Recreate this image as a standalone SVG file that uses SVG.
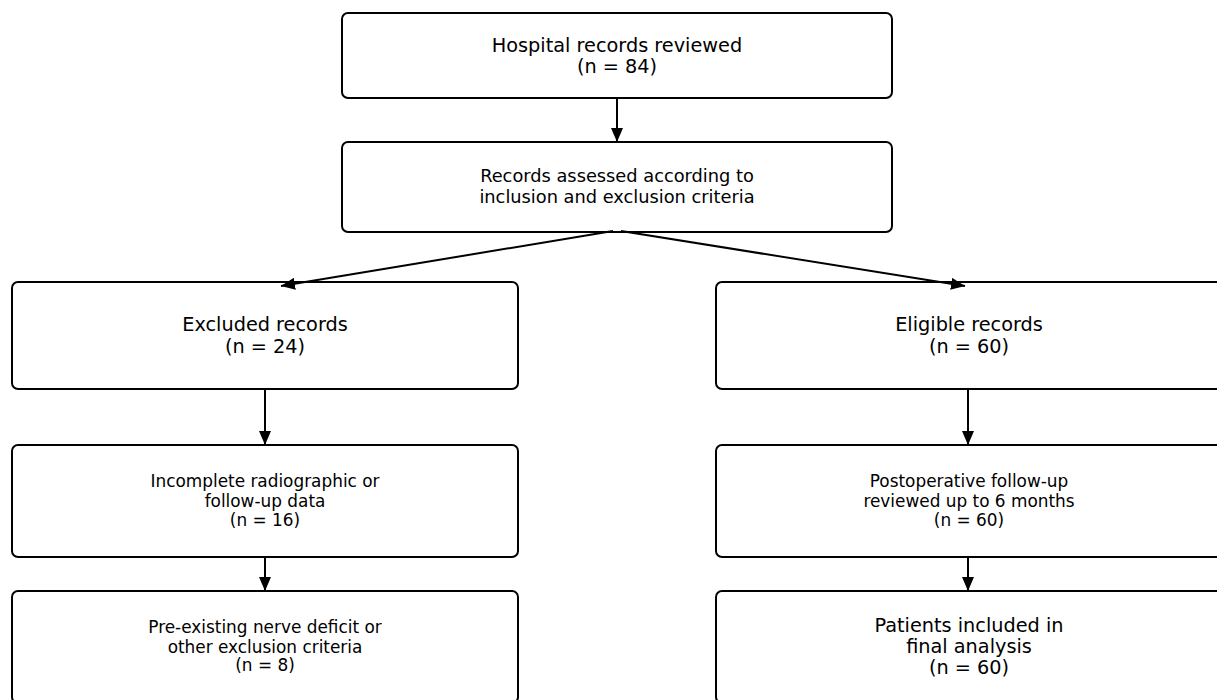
<svg xmlns="http://www.w3.org/2000/svg" width="1217" height="700" viewBox="0 0 1217 700">
<defs>
<marker id="ah" viewBox="0 0 14 12" refX="14" refY="6" markerWidth="14" markerHeight="12" markerUnits="userSpaceOnUse" orient="auto">
<path d="M0,0 L14,6 L0,12 Z" fill="#000"/>
</marker>
<style>
.box{fill:#fff;stroke:#000;stroke-width:2}
.t{font-family:"DejaVu Sans",sans-serif;text-anchor:middle;fill:#000}
.lg{font-size:19.3px}
.md{font-size:17.8px}
.sm{font-size:16.9px}
.c{stroke:#000;stroke-width:2;fill:none;marker-end:url(#ah)}
</style>
</defs>
<rect width="1217" height="700" fill="#fff"/>
<g id="n1"><rect class="box" x="342" y="13" width="550" height="85" rx="6"/>
<text class="t lg" x="617" y="52">Hospital records reviewed</text>
<text class="t lg" x="617" y="73">(n = 84)</text></g>
<g id="n2"><rect class="box" x="342" y="142" width="550" height="90" rx="6"/>
<text class="t md" x="617" y="182">Records assessed according to</text>
<text class="t md" x="617" y="203">inclusion and exclusion criteria</text></g>
<g id="n3"><rect class="box" x="12" y="282" width="506" height="107" rx="6"/>
<text class="t lg" x="265" y="331">Excluded records</text>
<text class="t lg" x="265" y="353">(n = 24)</text></g>
<g id="n4"><rect class="box" x="716" y="282" width="506" height="107" rx="6"/>
<text class="t lg" x="969" y="331">Eligible records</text>
<text class="t lg" x="969" y="353">(n = 60)</text></g>
<g id="n5"><rect class="box" x="12" y="445" width="506" height="112" rx="6"/>
<text class="t sm" x="265" y="487">Incomplete radiographic or</text>
<text class="t sm" x="265" y="507">follow-up data</text>
<text class="t sm" x="265" y="526">(n = 16)</text></g>
<g id="n6"><rect class="box" x="716" y="445" width="506" height="112" rx="6"/>
<text class="t sm" x="969" y="487">Postoperative follow-up</text>
<text class="t sm" x="969" y="507">reviewed up to 6 months</text>
<text class="t sm" x="969" y="526">(n = 60)</text></g>
<g id="n7"><rect class="box" x="12" y="591" width="506" height="112" rx="6"/>
<text class="t sm" x="265" y="633">Pre-existing nerve deficit or</text>
<text class="t sm" x="265" y="653">other exclusion criteria</text>
<text class="t sm" x="265" y="671">(n = 8)</text></g>
<g id="n8"><rect class="box" x="716" y="591" width="506" height="112" rx="6"/>
<text class="t lg" x="969" y="632">Patients included in</text>
<text class="t lg" x="969" y="653">final analysis</text>
<text class="t lg" x="969" y="674">(n = 60)</text></g>
<g id="connectors">
<line class="c" x1="617" y1="98" x2="617" y2="142"/>
<line class="c" x1="613" y1="231" x2="281" y2="286"/>
<line class="c" x1="621" y1="231" x2="965" y2="286"/>
<line class="c" x1="265" y1="389" x2="265" y2="445"/>
<line class="c" x1="265" y1="557" x2="265" y2="591"/>
<line class="c" x1="968" y1="389" x2="968" y2="445"/>
<line class="c" x1="968" y1="557" x2="968" y2="591"/>
</g>
</svg>
